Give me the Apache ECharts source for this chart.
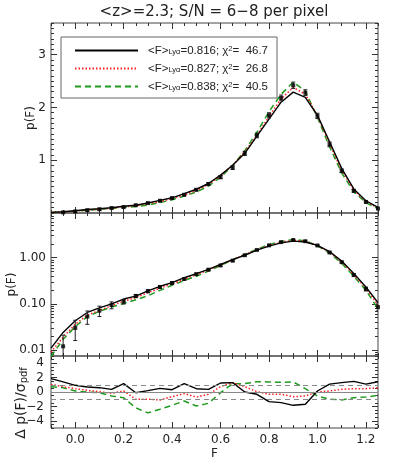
<!DOCTYPE html>
<html>
<head>
<meta charset="utf-8">
<script src="https://cdn.jsdelivr.net/npm/echarts@6/dist/echarts.min.js"></script>
<style>
html, body { margin: 0; padding: 0; background: #fff; }
#chart { width: 399px; height: 476px; }
</style>
</head>
<body>
<div id="chart"></div>
<script>
// flux bins (F) and measured pdf with 1-sigma errors
const fluxBins = [-0.10, -0.05, 0.00, 0.05, 0.10, 0.15, 0.20, 0.25, 0.30, 0.35, 0.40, 0.45, 0.50, 0.55,
  0.60, 0.65, 0.70, 0.75, 0.80, 0.85, 0.90, 0.95, 1.00, 1.05, 1.10, 1.15, 1.20, 1.25]
const pdfData = [null, 0.012, 0.030, 0.053, 0.071, 0.094, 0.112, 0.148, 0.188, 0.232, 0.283, 0.345, 0.440, 0.550,
  0.680, 0.860, 1.130, 1.470, 1.850, 2.180, 2.420, 2.280, 1.840, 1.300, 0.800, 0.420, 0.210, 0.085]
const pdfError = [null, 0.009, 0.014, 0.017, 0.018, 0.016, 0.013, 0.012, 0.013, 0.015, 0.017, 0.020, 0.022, 0.025,
  0.030, 0.035, 0.040, 0.045, 0.050, 0.055, 0.060, 0.055, 0.050, 0.045, 0.035, 0.025, 0.020, 0.015]

// model pdfs for the three mean fluxes
const model816 = [0.011, 0.024, 0.043, 0.065, 0.082, 0.100, 0.127, 0.147, 0.190, 0.240, 0.288, 0.368, 0.450, 0.559,
  0.718, 0.905, 1.130, 1.455, 1.780, 2.100, 2.290, 2.190, 1.850, 1.350, 0.845, 0.457, 0.232, 0.106]
const model827 = [0.0090, 0.019, 0.036, 0.057, 0.072, 0.091, 0.114, 0.136, 0.175, 0.216, 0.272, 0.340, 0.425, 0.542,
  0.702, 0.905, 1.160, 1.470, 1.830, 2.160, 2.380, 2.250, 1.840, 1.310, 0.813, 0.432, 0.219, 0.094]
const model838 = [0.0072, 0.017, 0.032, 0.053, 0.069, 0.085, 0.102, 0.122, 0.150, 0.196, 0.252, 0.320, 0.397, 0.511,
  0.677, 0.900, 1.180, 1.530, 1.920, 2.250, 2.480, 2.310, 1.810, 1.255, 0.760, 0.400, 0.196, 0.078]

// residuals (model - data) / sigma
const resid816 = [1.85, 1.40, 0.93, 0.70, 0.60, 0.37, 1.16, -0.10, 0.19, 0.50, 0.32, 1.16, 0.46, 0.37,
  1.25, 1.30, 0.00, -0.32, -1.34, -1.48, -1.85, -1.70, 0.14, 1.10, 1.30, 1.48, 1.10, 1.43]
const resid827 = [1.06, 0.74, 0.46, 0.23, 0.05, -0.19, 0.14, -1.00, -1.00, -1.10, -0.65, -0.23, -0.70, -0.32,
  0.74, 1.30, 0.74, 0.05, -0.32, -0.32, -0.65, -0.55, 0.00, 0.14, 0.37, 0.46, 0.46, 0.60]
const resid838 = [0.74, 0.60, 0.14, 0.00, -0.10, -0.55, -0.80, -2.20, -2.90, -2.40, -1.85, -1.25, -1.94, -1.57,
  -0.10, 1.16, 1.16, 1.43, 1.40, 1.34, 1.40, 0.46, -0.55, -1.00, -1.10, -0.80, -0.70, -0.46]

const meanFlux = ['0.816', '0.827', '0.838']
const chiSquared = ['46.7', '26.8', '40.5']

// axes / ticks
const fMin = -0.1
const fMax = 1.25
const xMajorTicks = [0.0, 0.2, 0.4, 0.6, 0.8, 1.0, 1.2]
const linYTicks = [1, 2, 3]
const logYTicks = [0.01, 0.10, 1.00]
const logYMinorTicks = [0.008, 0.009, 0.02, 0.03, 0.04, 0.05, 0.06, 0.07, 0.08, 0.09,
  0.2, 0.3, 0.4, 0.5, 0.6, 0.7, 0.8, 0.9, 2, 3, 4, 5, 6, 7, 8, 9]
const residYTicks = [-4, -2, 0, 2, 4]
const residRefLevels = [0, 1, -1]

const FONT = 'DejaVu Sans'
const LEGEND_FONT = 'Liberation Sans'
const labelFont = { fontFamily: FONT, fontSize: 12, color: '#222' }
const tickLine = { color: '#333', width: 1 }

const panels = [
  { top: 23, height: 190, type: 'value', min: 0, max: 3.6, ticks: linYTicks, minorInterval: 0.1,
    fmt: v => String(v), name: 'p(F)', nameGap: 14, margin: 5 },
  { top: 213, height: 143, type: 'log', min: 0.0074, max: 9.3, ticks: logYTicks, minorTicks: logYMinorTicks,
    fmt: v => v.toFixed(2), name: 'p(F)', nameGap: 33, margin: 5 },
  { top: 356, height: 72, type: 'value', min: -5, max: 5, ticks: residYTicks, minorInterval: 0.5,
    fmt: v => (v < 0 ? '\u2212' + Math.abs(v) : String(v)), name: '', nameGap: 0, margin: 7 }
]

const grid = []
const xAxis = []
const yAxis = []

panels.forEach((p, gi) => {
  const last = gi === panels.length - 1
  grid.push({
    left: 51, right: 21, top: p.top, height: p.height,
    show: true, borderColor: '#444', borderWidth: 1, backgroundColor: 'transparent',
    containLabel: false, outerBoundsMode: 'none'
  })
  ;['bottom', 'top'].forEach(pos => {
    const showLab = last && pos === 'bottom'
    xAxis.push({
      type: 'value', gridIndex: gi, position: pos, min: fMin, max: fMax,
      axisLine: { show: false, onZero: false }, splitLine: { show: false },
      axisTick: { inside: true, length: 6, customValues: xMajorTicks, lineStyle: tickLine },
      axisLabel: { show: showLab, customValues: xMajorTicks, formatter: v => v.toFixed(1), margin: 6, ...labelFont },
      name: showLab ? 'F' : '', nameLocation: 'middle', nameGap: 20, nameMoveOverlap: false, nameTextStyle: labelFont
    })
    xAxis.push({
      type: 'value', gridIndex: gi, position: pos, min: fMin, max: fMax, interval: 0.05,
      axisLine: { show: false, onZero: false }, splitLine: { show: false },
      axisTick: { inside: true, length: 3, lineStyle: tickLine },
      axisLabel: { show: false }
    })
  })
  ;['left', 'right'].forEach(pos => {
    const showLab = pos === 'left'
    yAxis.push({
      type: p.type, gridIndex: gi, position: pos, min: p.min, max: p.max,
      axisLine: { show: false, onZero: false }, splitLine: { show: false },
      axisTick: { inside: true, length: 6, customValues: p.ticks, lineStyle: tickLine },
      axisLabel: { show: showLab, customValues: p.ticks, formatter: p.fmt, margin: p.margin, ...labelFont },
      name: showLab ? p.name : '', nameLocation: 'middle', nameGap: p.nameGap, nameRotate: 90,
      nameMoveOverlap: false, nameTextStyle: labelFont
    })
    const minor = {
      type: p.type, gridIndex: gi, position: pos, min: p.min, max: p.max,
      axisLine: { show: false, onZero: false }, splitLine: { show: false },
      axisTick: { inside: true, length: 3, lineStyle: tickLine },
      axisLabel: { show: false }
    }
    if (p.minorTicks) minor.axisTick.customValues = p.minorTicks
    else minor.interval = p.minorInterval
    yAxis.push(minor)
  })
})

const modelStyles = [
  { color: '#000000', width: 1.4, type: 'solid' },
  { color: '#ff1f1f', width: 1.5, type: [1.5, 2] },
  { color: '#1f9a1f', width: 1.5, type: [6, 4] }
]
const models = [model816, model827, model838]
const resids = [resid816, resid827, resid838]
const pairs = arr => fluxBins.map((f, i) => [f, arr[i]])

const series = []

// pdf panels (linear and log)
;[0, 1].forEach(gi => {
  ;[2, 1, 0].forEach(k => {
    series.push({
      type: 'line', name: meanFlux[k], xAxisIndex: gi * 4, yAxisIndex: gi * 4,
      data: pairs(models[k]), symbol: 'none', lineStyle: modelStyles[k],
      itemStyle: { color: modelStyles[k].color }, clip: true, z: 2
    })
  })
  series.push({
    type: 'custom', xAxisIndex: gi * 4, yAxisIndex: gi * 4, clip: true, z: 3,
    data: fluxBins.map((f, i) => [f, pdfData[i], pdfError[i]]).filter(d => d[1] != null),
    encode: { x: 0, y: 1 },
    renderItem(params, api) {
      const f = api.value(0)
      const v = api.value(1)
      const e = api.value(2)
      const hi = api.coord([f, v + e])
      const lo = api.coord([f, Math.max(v - e, 1e-4)])
      const cap = 2
      const st = { stroke: '#222', lineWidth: 1 }
      return {
        type: 'group',
        children: [
          { type: 'line', shape: { x1: hi[0], y1: hi[1], x2: lo[0], y2: lo[1] }, style: st },
          { type: 'line', shape: { x1: hi[0] - cap, y1: hi[1], x2: hi[0] + cap, y2: hi[1] }, style: st },
          { type: 'line', shape: { x1: lo[0] - cap, y1: lo[1], x2: lo[0] + cap, y2: lo[1] }, style: st }
        ]
      }
    }
  })
  series.push({
    type: 'scatter', xAxisIndex: gi * 4, yAxisIndex: gi * 4, z: 4,
    data: fluxBins.map((f, i) => [f, pdfData[i]]).filter(d => d[1] != null),
    symbol: 'rect', symbolSize: 4, itemStyle: { color: '#000' }
  })
})

// residual panel
;[2, 1, 0].forEach((k, n) => {
  const s = {
    type: 'line', name: meanFlux[k], xAxisIndex: 8, yAxisIndex: 8,
    data: pairs(resids[k]), symbol: 'none', lineStyle: modelStyles[k],
    itemStyle: { color: modelStyles[k].color }, clip: true, z: 2
  }
  if (n === 0) {
    s.markLine = {
      silent: true, symbol: 'none', label: { show: false }, animation: false,
      lineStyle: { color: '#888', width: 1 },
      data: residRefLevels.map(l => ({ yAxis: l, lineStyle: { color: '#888', width: 1, type: l === 0 ? 'solid' : [5, 4] } }))
    }
  }
  series.push(s)
})

const chart = echarts.init(document.getElementById('chart'), null, { renderer: 'canvas' })
chart.setOption({
  animation: false,
  backgroundColor: '#fff',
  title: {
    text: '<z>=2.3; S/N = 6\u22128 per pixel',
    left: 214, top: 5, padding: 0, textAlign: 'center',
    textStyle: { fontFamily: FONT, fontSize: 15, fontWeight: 'normal', color: '#222' }
  },
  legend: {
    data: meanFlux,
    orient: 'vertical', left: 61, top: 37,
    padding: [6, 9, 4, 13], itemWidth: 63, itemHeight: 10, itemGap: 3,
    backgroundColor: '#fff', borderColor: '#666', borderWidth: 1, borderRadius: 0,
    itemStyle: { opacity: 0 },
    selectedMode: false,
    formatter: name => {
      const k = meanFlux.indexOf(name)
      return '<F>{sub|Ly\u03b1}=' + name + '; \u03c7{sup|2}=  ' + chiSquared[k]
    },
    textStyle: {
      fontFamily: LEGEND_FONT, fontSize: 11.5, color: '#222', lineHeight: 11, padding: [0, 0, 0, 5],
      rich: {
        sub: { fontFamily: LEGEND_FONT, fontSize: 7.5, color: '#222', verticalAlign: 'bottom', lineHeight: 8, padding: [5, 0, 0, 0] },
        sup: { fontFamily: LEGEND_FONT, fontSize: 7.5, color: '#222', verticalAlign: 'top', lineHeight: 8, padding: [0, 0, 5, 0] }
      }
    }
  },
  // y title of the residual panel
  graphic: [{
    type: 'text', x: 21, y: 403, rotation: Math.PI / 2, silent: true,
    style: {
      text: '\u0394 p(F)/\u03c3{sub|pdf}',
      fontFamily: FONT, fontSize: 14, fill: '#222', lineHeight: 16,
      align: 'center', verticalAlign: 'middle',
      rich: { sub: { fontFamily: FONT, fontSize: 10, fill: '#222', lineHeight: 10, padding: [6, 0, 0, 0] } }
    }
  }],
  grid,
  xAxis,
  yAxis,
  series
})
</script>
</body>
</html>
